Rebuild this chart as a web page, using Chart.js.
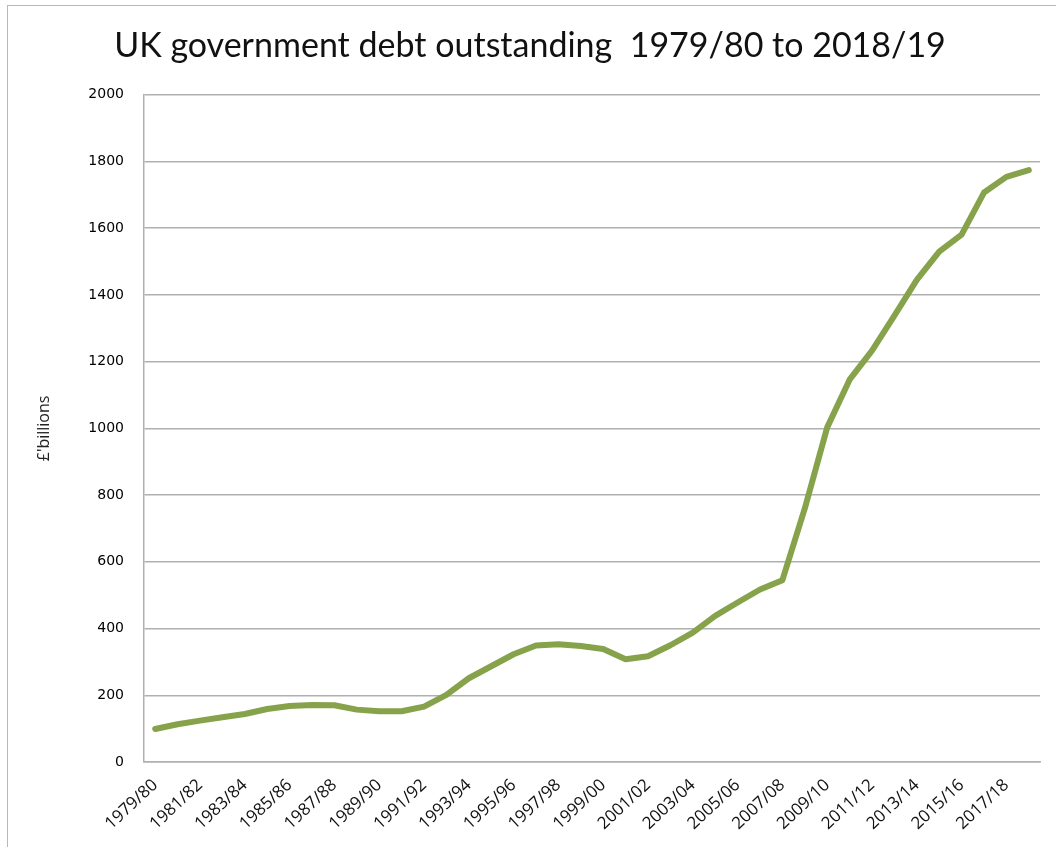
<!DOCTYPE html>
<html>
<head>
<meta charset="utf-8">
<script src="https://cdn.jsdelivr.net/npm/chart.js@4"></script>
<style>
  html, body { margin: 0; padding: 0; background: #fff; }
  body { width: 1056px; height: 847px; position: relative; overflow: hidden; }
  #frame { position: absolute; left: 7px; top: 5px; width: 1200px; height: 1000px; border: 1.5px solid #b8b8b8; }
  #wrap { position: absolute; left: 0; top: 0; width: 1056px; height: 847px; }
</style>
</head>
<body>
<div id="frame"></div>
<div id="wrap"><canvas id="debtChart"></canvas></div>
<script>
const years = [
  "1979/80", "1980/81", "1981/82", "1982/83", "1983/84", "1984/85", "1985/86", "1986/87",
  "1987/88", "1988/89", "1989/90", "1990/91", "1991/92", "1992/93", "1993/94", "1994/95",
  "1995/96", "1996/97", "1997/98", "1998/99", "1999/00", "2000/01", "2001/02", "2002/03",
  "2003/04", "2004/05", "2005/06", "2006/07", "2007/08", "2008/09", "2009/10", "2010/11",
  "2011/12", "2012/13", "2013/14", "2014/15", "2015/16", "2016/17", "2017/18", "2018/19",
];

// £ billions
const debt = [
  99, 113, 124, 134, 144, 159, 168, 171,
  170, 157, 152, 152, 166, 201, 251, 287,
  323, 349, 353, 348, 339, 308, 317, 350,
  388, 438, 478, 517, 545, 760, 1003, 1146,
  1233, 1338, 1445, 1530, 1581, 1707, 1754, 1774,
];

const yTicks = { min: 0, max: 2000, step: 200 };

const gridColor = "#b0b0b0";

let ctx = document.getElementById("debtChart").getContext("2d");
new Chart(ctx, {
  type: "line",
  data: {
    labels: years,
    datasets: [
      {
        label: "UK government debt outstanding",
        data: debt,
        borderColor: "#86a34b",
        backgroundColor: "#86a34b",
        borderWidth: 6,
        pointRadius: 0,
        tension: 0,
        borderJoinStyle: "round",
        borderCapStyle: "round",
      },
    ],
  },
  options: {
    responsive: true,
    maintainAspectRatio: false,
    animation: false,
    layout: { padding: { left: 20, right: 16, top: 0, bottom: 0 } },
    plugins: {
      legend: { display: false },
      tooltip: { enabled: false },
      title: {
        display: true,
        text: "UK government debt outstanding  1979/80 to 2018/19",
        color: "#111",
        font: { family: "Lato", size: 34, weight: "normal" },
        padding: { top: 26, bottom: 28 },
      },
    },
    scales: {
      x: {
        offset: true,
        grid: { display: false, drawTicks: false },
        border: { color: gridColor, width: 1.5 },
        ticks: {
          autoSkip: false,
          minRotation: 43,
          maxRotation: 43,
          padding: 13,
          color: "#111",
          font: { family: "Open Sans", size: 17 },
          callback: function (value, index) {
            return index % 2 === 0 ? this.getLabelForValue(value) : "";
          },
        },
        afterFit: (scale) => {
          scale.height = 85;
        },
      },
      y: {
        min: yTicks.min,
        max: yTicks.max,
        grid: { color: gridColor, lineWidth: 1.5, drawTicks: false },
        border: { color: gridColor, width: 1.5 },
        ticks: {
          stepSize: yTicks.step,
          padding: 20,
          color: "#000",
          font: { family: "DejaVu Sans", size: 14 },
          callback: (value) => String(value),
        },
        title: {
          display: true,
          text: "£'billions",
          color: "#222",
          font: { family: "Open Sans", size: 16 },
          padding: { top: 15, bottom: 0 },
        },
        afterFit: (scale) => {
          scale.width = 124;
        },
      },
    },
  },
});
</script>
</body>
</html>
